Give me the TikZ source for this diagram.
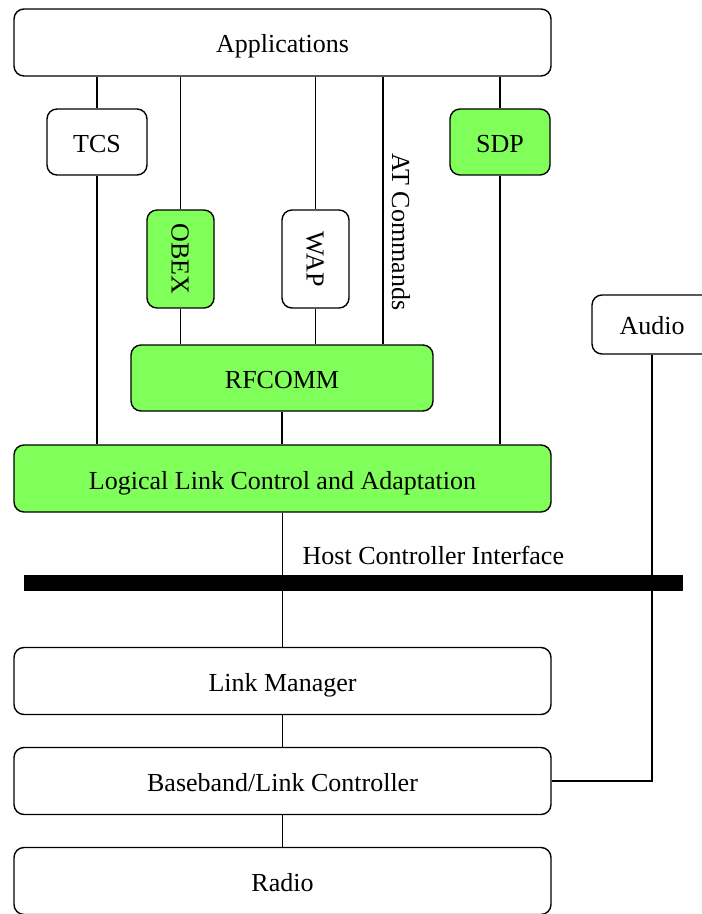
\documentclass[tikz,border=0pt]{standalone}
\usepackage{fontspec}
\setmainfont{Liberation Serif}
\usetikzlibrary{positioning}
\definecolor{stackgreen}{RGB}{128,255,90}
\tikzstyle{layer} = [rectangle, rounded corners=5pt, draw=black, line width=0.7pt, text centered, inner sep=0pt, text height=10.5pt, text depth=0pt]

\begin{document}
\begin{tikzpicture}[x=0.5pt, y=-0.5pt, node distance=50pt, font=\fontsize{13}{15}\selectfont, line width=0.7pt]
            \tikzstyle{wide} = [layer, minimum width=268.5pt, minimum height=33.5pt]
            \tikzstyle{proto} = [layer, minimum width=50pt, minimum height=33pt]
            \tikzstyle{tall} = [layer, minimum width=49pt, minimum height=33.5pt, rotate=-90, text height=9pt]
            \tikzstyle{hot} = [fill=stackgreen]

            \useasboundingbox (0,0) rectangle (701,914);

            \node[wide] (apps) at (282.5,42.5) {Applications};

            \node[proto] (tcs) at (97,142) {TCS};
            \node[proto, hot] (sdp) at (500,142) {SDP};
            \node[tall, hot] (obex) at (180.5,259) {OBEX};
            \node[tall] (wap) at (315.5,259) {WAP};
            \node[rotate=-90, inner sep=0pt, text height=9pt, text depth=0pt] (atcmd) at (401,232) {AT Commands};
            \coordinate (atline) at (383,0);

            \node[layer, hot, minimum width=151pt, minimum height=33pt] (rfcomm) at (282,378) {RFCOMM};
            \node[layer, minimum width=60pt, minimum height=29.5pt] (audio) at (652,324.5) {Audio};

            \node[wide, hot] (l2cap) at (282.5,478.5) {Logical Link Control and Adaptation};

            \node[fill=black, minimum width=329.5pt, minimum height=8pt, inner sep=0pt] (hci) at (353.5,583) {};
            \node[anchor=base west, inner sep=0pt] (hcilabel) at (302,564) {Host Controller Interface};

            \node[wide] (lm) at (282.5,681) {Link Manager};
            \node[wide, below of=lm] (bb) {Baseband/Link Controller};
            \node[wide, below of=bb] (radio) {Radio};

            \draw (apps.south -| tcs) -- (tcs.north);
            \draw (tcs.south) -- (l2cap.north -| tcs);
            \draw (apps.south -| obex) -- (obex.west);
            \draw (obex.east) -- (rfcomm.north -| obex);
            \draw (apps.south -| wap) -- (wap.west);
            \draw (wap.east) -- (rfcomm.north -| wap);
            \draw (apps.south -| atline) -- (rfcomm.north -| atline);
            \draw (apps.south -| sdp) -- (sdp.north);
            \draw (sdp.south) -- (l2cap.north -| sdp);

            \draw (rfcomm.south) -- (l2cap.north -| rfcomm);
            \draw (l2cap.south) -- (lm.north);
            \draw (lm) -- (bb);
            \draw (bb) -- (radio);
            \draw (audio.south) |- (bb.east);

\end{tikzpicture}
\end{document}
